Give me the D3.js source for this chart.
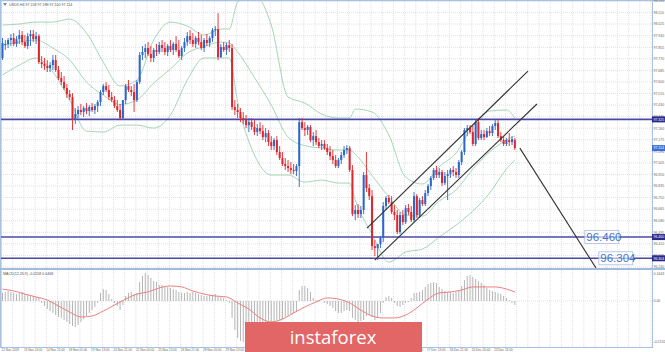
<!DOCTYPE html>
<html><head><meta charset="utf-8">
<script src="https://cdn.jsdelivr.net/npm/d3@7/dist/d3.min.js"></script>
<style>html,body{margin:0;padding:0;background:#fff;}svg{display:block;}</style>
</head><body>
<script>
// ---------- DATA ----------
const open=[97.776,97.871,97.879,97.908,97.923,97.879,97.915,97.945,97.893,97.864,97.937,97.952,97.915,97.937,97.746,97.732,97.717,97.702,97.724,97.761,97.688,97.629,97.599,97.555,97.511,97.489,97.320,97.364,97.394,97.379,97.408,97.386,97.416,97.394,97.423,97.452,97.526,97.570,97.541,97.489,97.467,97.423,97.394,97.335,97.467,97.570,97.541,97.526,97.467,97.599,97.798,97.820,97.849,97.805,97.776,97.835,97.820,97.871,97.849,97.820,97.864,97.835,97.879,97.835,97.790,97.849,97.893,97.937,97.908,97.879,97.923,97.893,97.849,97.908,97.886,97.923,97.982,97.989,97.783,97.857,97.835,97.871,97.849,97.416,97.394,97.379,97.335,97.320,97.283,97.305,97.269,97.232,97.261,97.239,97.195,97.224,97.158,97.129,97.173,97.085,97.041,96.997,96.982,96.967,96.953,96.945,96.982,97.305,97.261,97.247,97.269,97.173,97.202,97.158,97.129,97.144,97.114,97.085,97.055,97.026,96.982,97.026,97.063,97.100,97.114,96.953,96.629,96.659,96.629,96.659,96.916,96.820,96.761,96.394,96.379,96.409,96.453,96.688,96.747,96.717,96.644,96.622,96.497,96.622,96.570,96.673,96.644,96.585,96.761,96.622,96.732,96.703,96.783,96.835,96.894,96.953,96.916,96.938,96.857,96.908,96.923,96.953,96.938,96.916,97.011,97.085,97.247,97.261,97.232,97.144,97.305,97.188,97.217,97.195,97.239,97.224,97.276,97.298,97.202,97.173,97.144,97.173,97.158,97.173];
const high=[97.923,97.908,97.923,97.952,97.959,97.937,97.982,97.974,97.945,97.959,97.982,97.982,97.967,97.952,97.790,97.776,97.761,97.746,97.798,97.798,97.717,97.673,97.643,97.585,97.541,97.518,97.408,97.423,97.438,97.423,97.445,97.430,97.445,97.438,97.467,97.541,97.585,97.599,97.577,97.526,97.496,97.467,97.438,97.394,97.585,97.614,97.570,97.585,97.614,97.820,97.864,97.879,97.893,97.864,97.849,97.879,97.893,97.908,97.893,97.879,97.908,97.893,97.937,97.908,97.864,97.923,97.967,97.982,97.959,97.937,97.967,97.945,97.923,97.952,97.937,97.996,98.011,98.106,97.879,97.893,97.886,97.908,97.879,97.467,97.438,97.408,97.379,97.357,97.335,97.335,97.320,97.291,97.305,97.283,97.261,97.247,97.202,97.188,97.202,97.129,97.085,97.041,97.026,97.011,96.997,96.997,97.335,97.335,97.305,97.283,97.283,97.232,97.247,97.188,97.173,97.173,97.144,97.129,97.100,97.063,97.041,97.085,97.129,97.136,97.129,96.989,96.695,96.703,96.688,96.938,97.085,96.850,96.806,96.438,96.409,96.467,96.717,96.761,96.769,96.761,96.695,96.659,96.644,96.659,96.695,96.703,96.688,96.791,96.776,96.747,96.761,96.806,96.850,96.908,96.967,96.982,96.967,96.953,96.938,96.953,96.967,96.982,96.967,97.026,97.100,97.261,97.283,97.283,97.276,97.320,97.335,97.247,97.247,97.261,97.276,97.291,97.320,97.320,97.232,97.202,97.188,97.224,97.202,97.188];
const low=[97.761,97.835,97.849,97.864,97.864,97.857,97.879,97.871,97.849,97.842,97.864,97.893,97.879,97.732,97.702,97.688,97.673,97.673,97.688,97.673,97.614,97.577,97.541,97.482,97.467,97.247,97.291,97.335,97.357,97.342,97.364,97.349,97.379,97.364,97.379,97.423,97.504,97.526,97.467,97.452,97.408,97.379,97.320,97.320,97.438,97.526,97.496,97.379,97.452,97.585,97.761,97.776,97.790,97.746,97.746,97.790,97.805,97.820,97.798,97.790,97.820,97.798,97.820,97.776,97.761,97.820,97.864,97.879,97.857,97.849,97.871,97.835,97.820,97.864,97.857,97.893,97.937,97.761,97.776,97.820,97.798,97.820,97.394,97.357,97.335,97.305,97.291,97.261,97.232,97.247,97.210,97.202,97.217,97.173,97.158,97.129,97.100,97.100,97.063,97.026,96.982,96.953,96.938,96.923,96.923,96.908,96.828,97.247,97.202,97.210,97.158,97.129,97.136,97.114,97.100,97.100,97.063,97.026,96.997,96.967,96.967,96.997,97.041,97.070,96.938,96.614,96.585,96.600,96.600,96.629,96.791,96.732,96.365,96.320,96.291,96.379,96.423,96.659,96.703,96.629,96.585,96.482,96.482,96.548,96.556,96.622,96.570,96.570,96.600,96.600,96.688,96.688,96.761,96.806,96.879,96.894,96.894,96.835,96.842,96.732,96.894,96.908,96.894,96.894,96.989,97.063,97.202,97.217,97.129,97.129,97.173,97.173,97.173,97.188,97.202,97.202,97.247,97.188,97.158,97.129,97.129,97.129,97.136,97.100];
const close=[97.886,97.879,97.908,97.923,97.879,97.915,97.945,97.893,97.864,97.937,97.952,97.915,97.937,97.746,97.732,97.717,97.702,97.724,97.761,97.688,97.629,97.599,97.555,97.511,97.489,97.320,97.364,97.394,97.379,97.408,97.386,97.416,97.394,97.423,97.452,97.526,97.570,97.541,97.489,97.467,97.423,97.394,97.335,97.467,97.570,97.541,97.526,97.467,97.599,97.798,97.820,97.849,97.805,97.776,97.835,97.820,97.871,97.849,97.820,97.864,97.835,97.879,97.835,97.790,97.849,97.893,97.937,97.908,97.879,97.923,97.893,97.849,97.908,97.886,97.923,97.982,97.989,97.783,97.857,97.835,97.871,97.849,97.416,97.394,97.379,97.335,97.320,97.283,97.305,97.269,97.232,97.261,97.239,97.195,97.224,97.158,97.129,97.173,97.085,97.041,96.997,96.982,96.967,96.953,96.945,96.982,97.305,97.261,97.247,97.269,97.173,97.202,97.158,97.129,97.144,97.114,97.085,97.055,97.026,96.982,97.026,97.063,97.100,97.114,96.953,96.629,96.659,96.629,96.659,96.916,96.820,96.761,96.394,96.379,96.409,96.453,96.688,96.747,96.717,96.644,96.622,96.497,96.622,96.570,96.673,96.644,96.585,96.761,96.622,96.732,96.703,96.783,96.835,96.894,96.953,96.916,96.938,96.857,96.908,96.923,96.953,96.938,96.916,97.011,97.085,97.247,97.261,97.232,97.144,97.305,97.188,97.217,97.195,97.239,97.224,97.276,97.298,97.202,97.173,97.144,97.173,97.158,97.180,97.114];

const bbIdx=[0,6,12,18,24,30,36,42,48,54,60,66,72,78,81,84,90,96,102,108,114,120,124,126,132,138,144,150,156,162,168,174,180,183];
const bbUpper=[98.018,98.026,98.040,98.040,98.062,97.960,97.746,97.570,97.614,97.908,98.040,98.011,97.945,97.989,97.989,98.187,98.239,98.018,97.489,97.445,97.364,97.335,97.335,97.401,97.379,97.210,96.901,96.850,96.977,97.078,97.276,97.386,97.394,97.335];
const bbMiddle=[97.871,97.893,97.908,97.849,97.761,97.599,97.504,97.434,97.467,97.592,97.695,97.813,97.860,97.893,97.886,97.820,97.633,97.430,97.195,97.132,97.114,97.100,97.100,97.069,96.913,96.754,96.622,96.614,96.725,96.806,96.960,97.085,97.173,97.202];
const bbLower=[97.651,97.724,97.776,97.673,97.467,97.239,97.232,97.283,97.283,97.261,97.357,97.614,97.776,97.776,97.776,97.452,97.063,96.916,96.916,96.864,96.879,96.857,96.857,96.732,96.482,96.276,96.350,96.372,96.460,96.548,96.651,96.784,96.960,97.026];

const macdHist=[0.042,0.047,0.052,0.047,0.042,0.036,0.042,0.047,0.036,0.031,0.031,0.026,0.021,0.016,-0.010,-0.026,-0.042,-0.052,-0.062,-0.073,-0.083,-0.088,-0.099,-0.109,-0.120,-0.130,-0.135,-0.125,-0.109,-0.094,-0.078,-0.062,-0.047,-0.031,-0.010,0.042,0.062,0.057,0.036,0.010,-0.010,-0.026,-0.047,-0.021,0.026,0.042,0.047,0.036,0.042,0.099,0.130,0.146,0.135,0.120,0.104,0.099,0.083,0.083,0.078,0.073,0.068,0.062,0.057,0.047,0.042,0.042,0.047,0.042,0.047,0.042,0.036,0.031,0.026,0.026,0.031,0.031,0.036,0.026,0.021,0.016,0.005,-0.010,-0.088,-0.151,-0.192,-0.208,-0.213,-0.208,-0.192,-0.177,-0.166,-0.151,-0.140,-0.130,-0.125,-0.120,-0.114,-0.109,-0.104,-0.099,-0.094,-0.083,-0.078,-0.068,-0.062,-0.057,0.057,0.078,0.078,0.068,0.047,0.016,0.005,-0.005,0.000,-0.010,-0.016,-0.026,-0.036,-0.052,-0.062,-0.062,-0.052,-0.047,-0.052,-0.088,-0.099,-0.109,-0.104,-0.099,-0.078,-0.073,-0.083,-0.099,-0.088,-0.062,-0.010,0.021,0.026,0.016,-0.010,-0.026,-0.031,-0.021,-0.010,-0.005,0.016,0.042,0.042,0.047,0.057,0.073,0.088,0.094,0.099,0.094,0.073,0.062,0.052,0.047,0.047,0.042,0.047,0.057,0.078,0.109,0.130,0.135,0.125,0.114,0.104,0.094,0.083,0.068,0.057,0.052,0.047,0.042,0.036,0.026,0.016,0.005,-0.010,-0.021];
const signalIdx=[0,4,8,12,16,20,24,28,32,36,40,44,48,52,56,60,64,68,72,76,80,84,88,92,96,100,104,108,112,116,120,124,128,132,136,140,144,148,152,156,160,164,168,172,176,180,183];
const signal=[0.062,0.052,0.036,0.021,0.005,-0.026,-0.057,-0.083,-0.078,-0.052,-0.021,0.010,0.036,0.047,0.068,0.078,0.073,0.052,0.036,0.026,0.021,-0.010,-0.042,-0.088,-0.109,-0.094,-0.062,-0.031,-0.005,0.016,0.010,-0.010,-0.047,-0.078,-0.088,-0.088,-0.073,-0.036,0.010,0.042,0.047,0.057,0.073,0.073,0.073,0.062,0.047];

const priceTicks=[98.195,98.110,98.025,97.940,97.855,97.770,97.685,97.600,97.515,97.430,97.345,97.260,97.175,97.090,97.005,96.920,96.835,96.750,96.665,96.580,96.495,96.410,96.325,96.240];
const timeTickIdx=[0,8,16,24,32,40,48,56,64,72,80,88,96,104,112,120,128,136,144,152,160,168,176];
const timeTickLabels=["12 Nov 2019","13 Nov 13:00","14 Nov 21:00","18 Nov 05:00","19 Nov 13:00","20 Nov 21:00","22 Nov 05:00","25 Nov 13:00","26 Nov 21:00","28 Nov 05:00","29 Nov 13:00","2 Dec 21:00","4 Dec 05:00","5 Dec 13:00","6 Dec 21:00","10 Dec 05:00","11 Dec 13:00","12 Dec 21:00","16 Dec 05:00","17 Dec 13:00","18 Dec 21:00","20 Dec 05:00","23 Dec 13:00"];
const macdTicks=[0.1443,0.00,-0.2132];
const levels=[97.325,96.460,96.304];
const currentPrice=97.114;
const levelLabels=[{price:96.460,idx:208,text:"96.460"},{price:96.304,idx:213,text:"96.304"}];
const channelUpper=[[130.2,96.526],[187.7,97.680]];
const channelLower=[[133.0,96.291],[190.9,97.438]];
const targetLine=[[184.8,97.114],[212.0,96.232]];

// ---------- CHART ----------
const W=665,H=352;
const svg=d3.select("body").append("svg").attr("width",W).attr("height",H).style("font-family","Liberation Sans, Arial, sans-serif");
const x=d3.scaleLinear().domain([0,232]).range([2.5,652]);
const y=d3.scaleLinear().domain([96.240,98.195]).range([267,1]);
const my=d3.scaleLinear().domain([-0.239,0.161]).range([347,270]);
const bull="#2b66c8", bear="#e0262c", frame="#a9c2e2";

svg.append("rect").attr("width",W).attr("height",H).attr("fill","#fff");
const defs=svg.append("defs");
defs.append("clipPath").attr("id","main").append("rect").attr("x",1).attr("y",1).attr("width",651).attr("height",267);
defs.append("clipPath").attr("id","sub").append("rect").attr("x",1).attr("y",270).attr("width",651).attr("height",77);

// grid
const gridIdx=d3.range(0,233,4);
const g=svg.append("g").attr("stroke","#d3d9e3").attr("stroke-width",0.8).attr("stroke-dasharray","1,1");
gridIdx.forEach(i=>{
  g.append("line").attr("x1",x(i)-1).attr("x2",x(i)-1).attr("y1",1).attr("y2",268);
  g.append("line").attr("x1",x(i)-1).attr("x2",x(i)-1).attr("y1",270).attr("y2",347);
});
priceTicks.forEach(p=>g.append("line").attr("x1",1).attr("x2",652).attr("y1",y(p)).attr("y2",y(p)));
g.append("line").attr("x1",1).attr("x2",652).attr("y1",my(0)).attr("y2",my(0));

// frames
svg.append("rect").attr("x",0).attr("y",0).attr("width",W).attr("height",1.2).attr("fill",frame);
svg.append("rect").attr("x",0).attr("y",0).attr("width",1.5).attr("height",348).attr("fill",frame);
svg.append("rect").attr("x",0).attr("y",268).attr("width",W).attr("height",2).attr("fill","#9fbce0");
svg.append("line").attr("x1",652.5).attr("x2",652.5).attr("y1",0).attr("y2",348).attr("stroke",frame).attr("stroke-width",1);
svg.append("line").attr("x1",0).attr("x2",653).attr("y1",347.5).attr("y2",347.5).attr("stroke",frame).attr("stroke-width",1);

const mg=svg.append("g").attr("clip-path","url(#main)");
// bollinger
const bbLine=(arr)=>d3.line().x((d,k)=>x(bbIdx[k])).y(d=>y(d)).curve(d3.curveMonotoneX)(arr);
[bbUpper,bbMiddle,bbLower].forEach(a=>mg.append("path").attr("d",bbLine(a)).attr("fill","none").attr("stroke","#a6d6b4").attr("stroke-width",1));

// levels
levels.forEach(p=>mg.append("line").attr("x1",1).attr("x2",652).attr("y1",y(p)).attr("y2",y(p)).attr("stroke","#4a4aa6").attr("stroke-width",1.6));

// candles
const cg=mg.append("g");
close.forEach((c,i)=>{
  const o=open[i], col=c>=o?bull:bear, cx=x(i);
  cg.append("line").attr("x1",cx).attr("x2",cx).attr("y1",y(high[i])).attr("y2",y(low[i])).attr("stroke",col).attr("stroke-width",0.9);
  const top=y(Math.max(o,c)), bot=y(Math.min(o,c));
  cg.append("rect").attr("x",cx-1).attr("width",2).attr("y",top).attr("height",Math.max(0.8,bot-top)).attr("fill",col);
});

// channel & target lines
const ln=d3.line().x(d=>x(d[0])).y(d=>y(d[1]));
[channelUpper,channelLower,targetLine].forEach(a=>mg.append("path").attr("d",ln(a)).attr("stroke","#333").attr("stroke-width",1.1).attr("fill","none"));

// level text boxes
levelLabels.forEach(l=>{
  const gx=x(l.idx), gy=y(l.price);
  mg.append("rect").attr("x",gx).attr("y",gy-6.5).attr("width",34).attr("height",13).attr("fill","rgba(255,255,255,0.6)").attr("stroke","#a8bde2").attr("stroke-width",0.8);
  mg.append("text").attr("x",gx+1.5).attr("y",gy+4.2).attr("font-size",11.5).attr("fill","#4a72c8").text(l.text);
});

// title
svg.append("path").attr("d","M3,3 L7,3 L5,6 Z").attr("fill","#6a8fc6");
svg.append("text").attr("x",9).attr("y",5.8).attr("font-size",3.6).attr("fill","#555").text("USDX,H4  97.158 97.188 97.100 97.114");

// right price axis
const ax=svg.append("g").attr("font-size",3.5).attr("fill","#666");
priceTicks.forEach(p=>ax.append("text").attr("x",653.5).attr("y",y(p)+1.3).text(p.toFixed(3)));
levels.forEach(p=>{
  svg.append("rect").attr("x",652).attr("y",y(p)-3).attr("width",13).attr("height",6).attr("fill","#2a2a8c");
  svg.append("text").attr("x",653.5).attr("y",y(p)+1.3).attr("font-size",3.5).attr("fill","#fff").text(p.toFixed(3));
});
svg.append("rect").attr("x",652).attr("y",y(currentPrice)-3).attr("width",13).attr("height",6).attr("fill","#3d6fd2");
svg.append("text").attr("x",653.5).attr("y",y(currentPrice)+1.3).attr("font-size",3.5).attr("fill","#fff").text(currentPrice.toFixed(3));

// MACD
const sg=svg.append("g").attr("clip-path","url(#sub)");
macdHist.forEach((v,i)=>sg.append("line").attr("x1",x(i)).attr("x2",x(i)).attr("y1",my(0)).attr("y2",my(v)).attr("stroke","#b4b4b4").attr("stroke-width",1));
sg.append("path").attr("d",d3.line().x((d,k)=>x(signalIdx[k])).y(d=>my(d)).curve(d3.curveMonotoneX)(signal)).attr("fill","none").attr("stroke","#ec8080").attr("stroke-width",1);
svg.append("text").attr("x",3).attr("y",275).attr("font-size",3.6).attr("fill","#555").text("MACD(12,26,9) -0.0208 0.0468");
macdTicks.forEach(v=>svg.append("text").attr("x",653.5).attr("y",my(v)+1.3).attr("font-size",3.5).attr("fill","#666").text(v===0?"0.00":v.toFixed(4)));

// time axis
timeTickIdx.forEach((t,k)=>svg.append("text").attr("x",x(t)-1).attr("y",351).attr("font-size",3.1).attr("fill","#666").text(timeTickLabels[k]));

// watermark
svg.append("rect").attr("x",245).attr("y",322).attr("width",177).attr("height",30).attr("fill","#e36666");
svg.append("text").attr("x",333).attr("y",343.5).attr("text-anchor","middle").attr("font-size",18.5).attr("fill","#fff").attr("font-family","Open Sans, Liberation Sans, sans-serif").text("instaforex");
</script>
</body></html>
